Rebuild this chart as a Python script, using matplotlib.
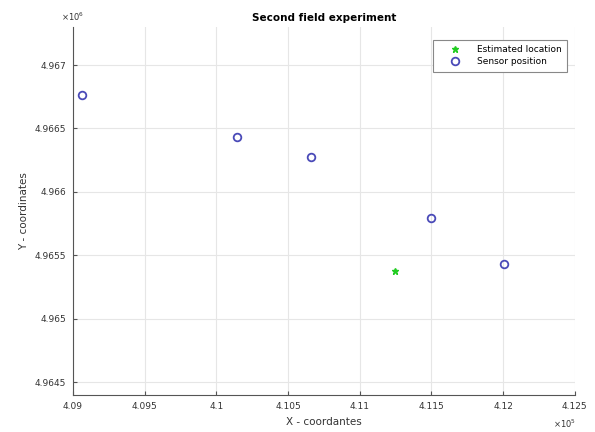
import matplotlib.pyplot as plt
from matplotlib.ticker import FuncFormatter

# sensor positions (UTM-like coordinates)
sensor_x = [409063, 410143, 410659, 411500, 412005]
sensor_y = [4966764, 4966433, 4966276, 4965795, 4965433]

# estimated source location
est_x = [411245]
est_y = [4965378]

xticks = [409000, 409500, 410000, 410500, 411000, 411500, 412000, 412500]
yticks = [4964500, 4965000, 4965500, 4966000, 4966500, 4967000]

txt = '#333333'

fig = plt.figure(figsize=(5.95, 4.32), dpi=100)
ax = fig.add_axes([0.1227, 0.0856, 0.8433, 0.852])

ax.plot(est_x, est_y, '*', color='#22cc22', markersize=5, label='Estimated location')
ax.plot(sensor_x, sensor_y, 'o', color='#4a4ab8', markerfacecolor='none',
        markersize=5.5, markeredgewidth=1.3, label='Sensor position')

ax.set_xlim(409000, 412500)
ax.set_ylim(4964400, 4967300)
ax.set_xticks(xticks)
ax.set_yticks(yticks)
ax.xaxis.set_major_formatter(FuncFormatter(lambda v, p: f'{v/1e5:g}'))
ax.yaxis.set_major_formatter(FuncFormatter(lambda v, p: f'{v/1e6:g}'))

ax.grid(True, color='#e6e6e6', linewidth=0.8)
ax.set_axisbelow(True)
for s in ['top', 'right']:
    ax.spines[s].set_visible(False)
for s in ['left', 'bottom']:
    ax.spines[s].set_color('#555555')
    ax.spines[s].set_linewidth(0.8)
ax.tick_params(direction='in', length=3, labelsize=6.5, colors='#555555',
               labelcolor=txt, pad=5)

ax.set_title('Second field experiment', fontsize=7.5, fontweight='bold', pad=4)
ax.set_xlabel('X - coordantes', fontsize=7.5, color=txt, labelpad=4)
ax.set_ylabel('Y - coordinates', fontsize=7.5, color=txt, labelpad=4)

# exponent labels like MATLAB
ax.text(0.0, 1.01, r'$\times10^{6}$', transform=ax.transAxes, fontsize=6,
        color=txt, ha='center', va='bottom')
ax.text(0.98, -0.078, r'$\times10^{5}$', transform=ax.transAxes, fontsize=6,
        color=txt, ha='center', va='center')

leg = ax.legend(loc='upper right', fontsize=6.5, bbox_to_anchor=(0.985, 0.965),
                fancybox=False, framealpha=1, edgecolor='#888888',
                handlelength=3.6, handletextpad=0.7, borderpad=0.6,
                labelspacing=0.35, borderaxespad=0)
leg.get_frame().set_linewidth(0.8)

fig.savefig('out.png', dpi=100)
